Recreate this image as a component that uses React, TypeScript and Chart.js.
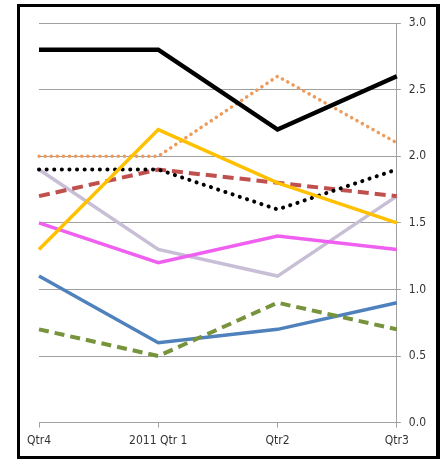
import React, { useEffect, useRef } from "react";
import { Chart, registerables } from "chart.js";

Chart.register(...registerables);

const categories = ["Qtr4", "2011 Qtr 1", "Qtr2", "Qtr3"];
const yTicks = [0, 0.5, 1.0, 1.5, 2.0, 2.5, 3.0];

const blackSolid = [2.8, 2.8, 2.2, 2.6];
const orangeDotted = [2.0, 2.0, 2.6, 2.1];
const yellowSolid = [1.3, 2.2, 1.8, 1.5];
const blackDotted = [1.9, 1.9, 1.6, 1.9];
const redDashed = [1.7, 1.9, 1.8, 1.7];
const lavenderSolid = [1.9, 1.3, 1.1, 1.7];
const magentaSolid = [1.5, 1.2, 1.4, 1.3];
const blueSolid = [1.1, 0.6, 0.7, 0.9];
const greenDashed = [0.7, 0.5, 0.9, 0.7];

export default function App() {
  const ref = useRef<HTMLCanvasElement | null>(null);

  useEffect(() => {
    if (!ref.current) return;
    const font = { family: "'DejaVu Sans Condensed', 'Liberation Sans Narrow', sans-serif", size: 12 };
    const ds = (label: string, data: number[], color: string, width: number, dash: number[] = [], cap: CanvasLineCap = "butt") => ({
      label,
      data,
      borderColor: color,
      backgroundColor: color,
      borderWidth: width,
      borderDash: dash,
      borderCapStyle: cap,
      borderJoinStyle: "miter" as CanvasLineJoin,
      pointRadius: 0,
      tension: 0,
      fill: false,
    });
    const chart = new Chart(ref.current, {
      type: "line",
      data: {
        labels: categories,
        datasets: [
          ds("A", blackSolid, "#000000", 4.5),
          ds("B", yellowSolid, "#FFC000", 3.5),
          ds("C", orangeDotted, "#EE9A5A", 3.5, [0.1, 6], "round"),
          ds("D", blackDotted, "#000000", 4, [0.1, 7.5], "round"),
          ds("E", redDashed, "#C0504D", 4, [11, 6]),
          ds("F", magentaSolid, "#F060F0", 3.5),
          ds("G", lavenderSolid, "#C8BED6", 3.5),
          ds("H", greenDashed, "#77933C", 4, [10, 6]),
          ds("I", blueSolid, "#4F81BD", 3.5),
        ],
      },
      options: {
        animation: false,
        responsive: false,
        maintainAspectRatio: false,
        layout: { padding: { left: 19, top: 16, right: 2, bottom: 2 } },
        plugins: { legend: { display: false }, tooltip: { enabled: false } },
        scales: {
          x: {
            offset: false,
            grid: { drawOnChartArea: false, drawTicks: true, tickLength: 5, color: "#A0A0A0" },
            border: { display: true, color: "#A0A0A0" },
            ticks: { color: "#333", font, padding: 6, maxRotation: 0, autoSkip: false },
          },
          y: {
            position: "right",
            min: 0,
            max: 3,
            afterBuildTicks: (axis: any) => {
              axis.ticks = yTicks.map((v) => ({ value: v }));
            },
            grid: { color: "#A0A0A0", tickLength: 4, lineWidth: 1 },
            border: { display: true, color: "#A0A0A0" },
            ticks: {
              color: "#333",
              font,
              padding: 8,
              callback: (v: any) => Number(v).toFixed(1),
            },
          },
        },
      },
    });
    return () => chart.destroy();
  }, []);

  return (
    <div style={{ position: "absolute", left: 0, top: 0, width: 445, height: 461, background: "#fff" }}>
      <div
        style={{
          position: "absolute",
          left: 17,
          top: 4,
          width: 416,
          height: 449,
          borderStyle: "solid",
          borderColor: "#000",
          borderWidth: "3px 4px 3px 3px",
          background: "#fff",
        }}
      >
        <canvas ref={ref} width={416} height={449} style={{ display: "block", width: 416, height: 449 }} />
      </div>
    </div>
  );
}
